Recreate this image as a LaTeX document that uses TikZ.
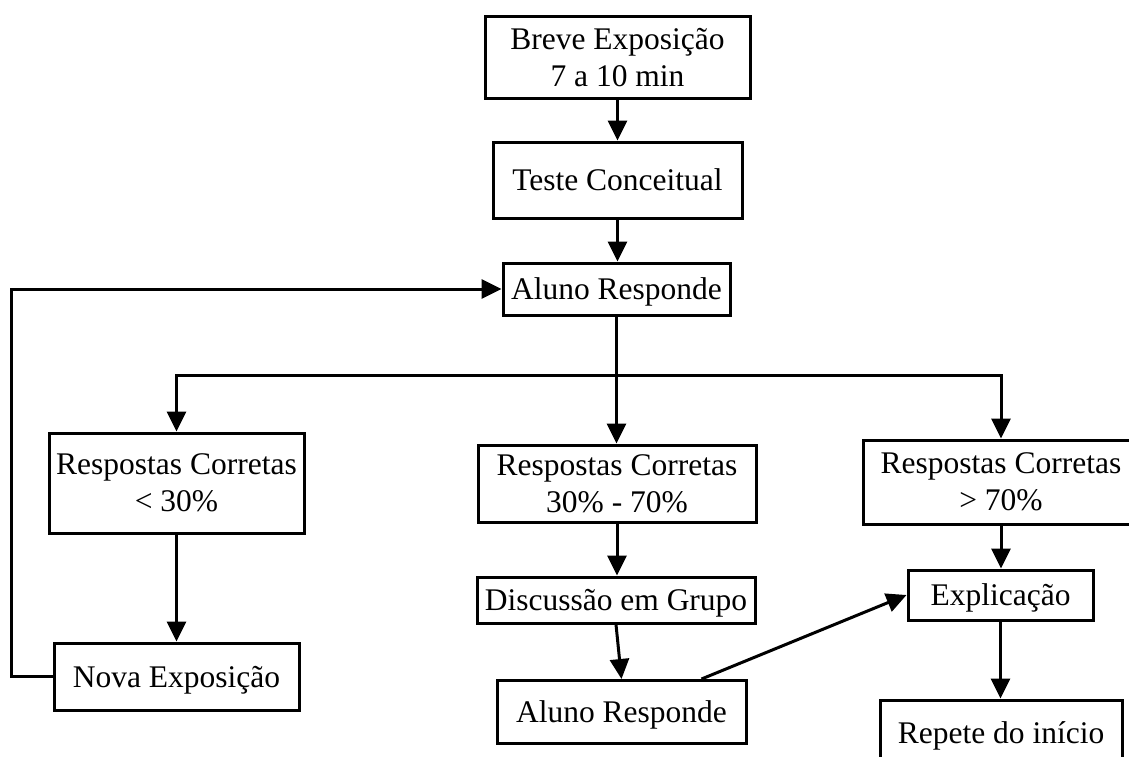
\documentclass[tikz,border=0pt]{standalone}
\usepackage{fontspec}
\setmainfont{Liberation Serif}
\usetikzlibrary{arrows.meta,calc}
\tikzset{
  box/.style={draw, line width=3pt, inner sep=0pt, align=center,
    font=\fontsize{31.5}{37}\selectfont},
  oneline/.style={box, text height=21pt, text depth=0pt},
  arr/.style={line width=3pt, -{Triangle[width=19pt,length=20pt]}}
}
\begin{document}
\begin{tikzpicture}[x=1pt,y=-1pt]
\useasboundingbox (0,0) rectangle (1129,756);
\node[box, minimum width=265pt, minimum height=82pt] (b1) at (617.5,57.5) {Breve Exposição\\7 a 10 min};
\node[oneline, minimum width=249pt, minimum height=76pt] (b2) at (617.5,180) {Teste Conceitual};
\node[oneline, minimum width=227pt, minimum height=52pt] (a1) at (616.5,289) {Aluno Responde};
\node[box, minimum width=255pt, minimum height=100pt] (r1) at (176.5,483) {Respostas Corretas\\< 30\%};
\node[box, minimum width=278pt, minimum height=77pt] (r2) at (617,483.5) {Respostas Corretas\\30\% - 70\%};
\node[box, minimum width=276pt, minimum height=84pt] (r3) at (1001,482) {Respostas Corretas\\> 70\%};
\node[oneline, minimum width=278pt, minimum height=46pt] (d) at (616,600) {Discussão em Grupo};
\node[oneline, minimum width=245pt, minimum height=67pt] (n) at (176.5,676.5) {Nova Exposição};
\node[oneline, minimum width=249pt, minimum height=63pt] (a2) at (621.5,712) {Aluno Responde};
\node[oneline, minimum width=185pt, minimum height=50pt] (e) at (1000.5,595) {Explicação};
\node[oneline, minimum width=242pt, minimum height=66pt] (rep) at (1001,733) {Repete do início};
\coordinate (j) at (616.5,375);
\draw[arr] (b1.south) -- (b1.south |- b2.north);
\draw[arr] (b2.south) -- (b2.south |- a1.north);
\draw[arr] (n.west) -- ++(-41,0) |- (a1.west);
\draw[arr] (a1.south) -- (a1.south |- r2.north);
\draw[arr] (j) -| (r1.north);
\draw[arr] (j) -| (r3.north);
\draw[arr] (r1.south) -- (n.north);
\draw[arr] (r2.south) -- (r2.south |- d.north);
\draw[arr] (d.south) -- (a2.north);
\draw[arr] ([xshift=-46pt]a2.north east) -- (e.west);
\draw[arr] (r3.south) -- (r3.south |- e.north);
\draw[arr] (e.south) -- (e.south |- rep.north);
\end{tikzpicture}
\end{document}
